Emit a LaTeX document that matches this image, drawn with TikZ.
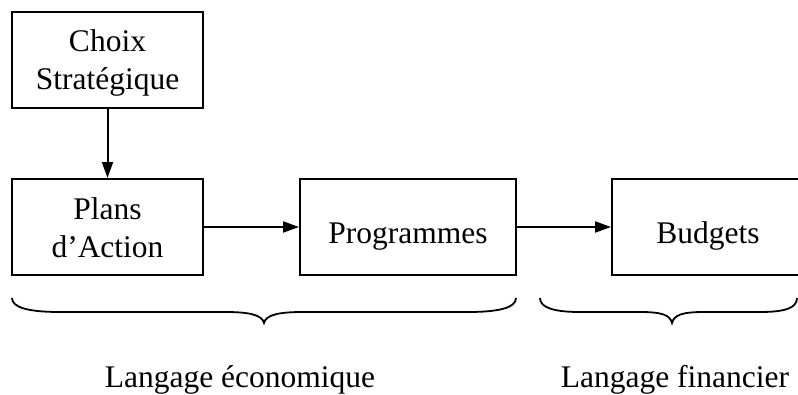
\documentclass[tikz,border=0pt]{standalone}
\usepackage{fontspec}
\setmainfont{Liberation Serif}
\usetikzlibrary{arrows.meta}
\begin{document}
\begin{tikzpicture}[x=1pt,y=-1pt,
  box/.style={draw,line width=2pt,minimum width=#1,minimum height=96pt,inner sep=0pt},
  lbl/.style={font=\fontsize{31.5}{38}\selectfont,align=center,anchor=base,inner sep=0pt},
  conn/.style={line width=2pt,-{Triangle[length=16pt,width=11pt]}},
  brace/.style={line width=1.8pt}]
\useasboundingbox (0,0) rectangle (798,394);
\node[box=191pt] (choix) at (107.5,59.5) {};
\node[box=191pt] (plans) at (107.5,227) {};
\node[box=216pt] (prog) at (408,227) {};
\node[box=192pt] (budg) at (708,227) {};
\node[lbl] (tchoix) at (107.5,89.5) {Choix\\Stratégique};
\node[lbl] (tplans) at (107.5,257) {Plans\\d’Action};
\node[lbl] (tprog) at (408,243) {Programmes};
\node[lbl] (tbudg) at (708,243) {Budgets};
\draw[conn] (choix) -- (plans);
\draw[conn] (plans) -- (prog);
\draw[conn] (prog) -- (budg);
\draw[brace] (12,298) .. controls (12,308) and (30,312) .. (60,312) -- (225,312)
  .. controls (250,312) and (262,315) .. (264,323)
  .. controls (266,315) and (278,312) .. (303,312) -- (468,312)
  .. controls (498,312) and (516,308) .. (516,298);
\draw[brace] (540,298) .. controls (540,308) and (555,312) .. (580,312) -- (640,312)
  .. controls (662,312) and (670,315) .. (672,323)
  .. controls (674,315) and (682,312) .. (704,312) -- (760,312)
  .. controls (785,312) and (797,308) .. (797,298);
\node[lbl] (leco) at (240,387) {Langage économique};
\node[lbl] (lfin) at (675,387) {Langage financier};
\end{tikzpicture}
\end{document}
